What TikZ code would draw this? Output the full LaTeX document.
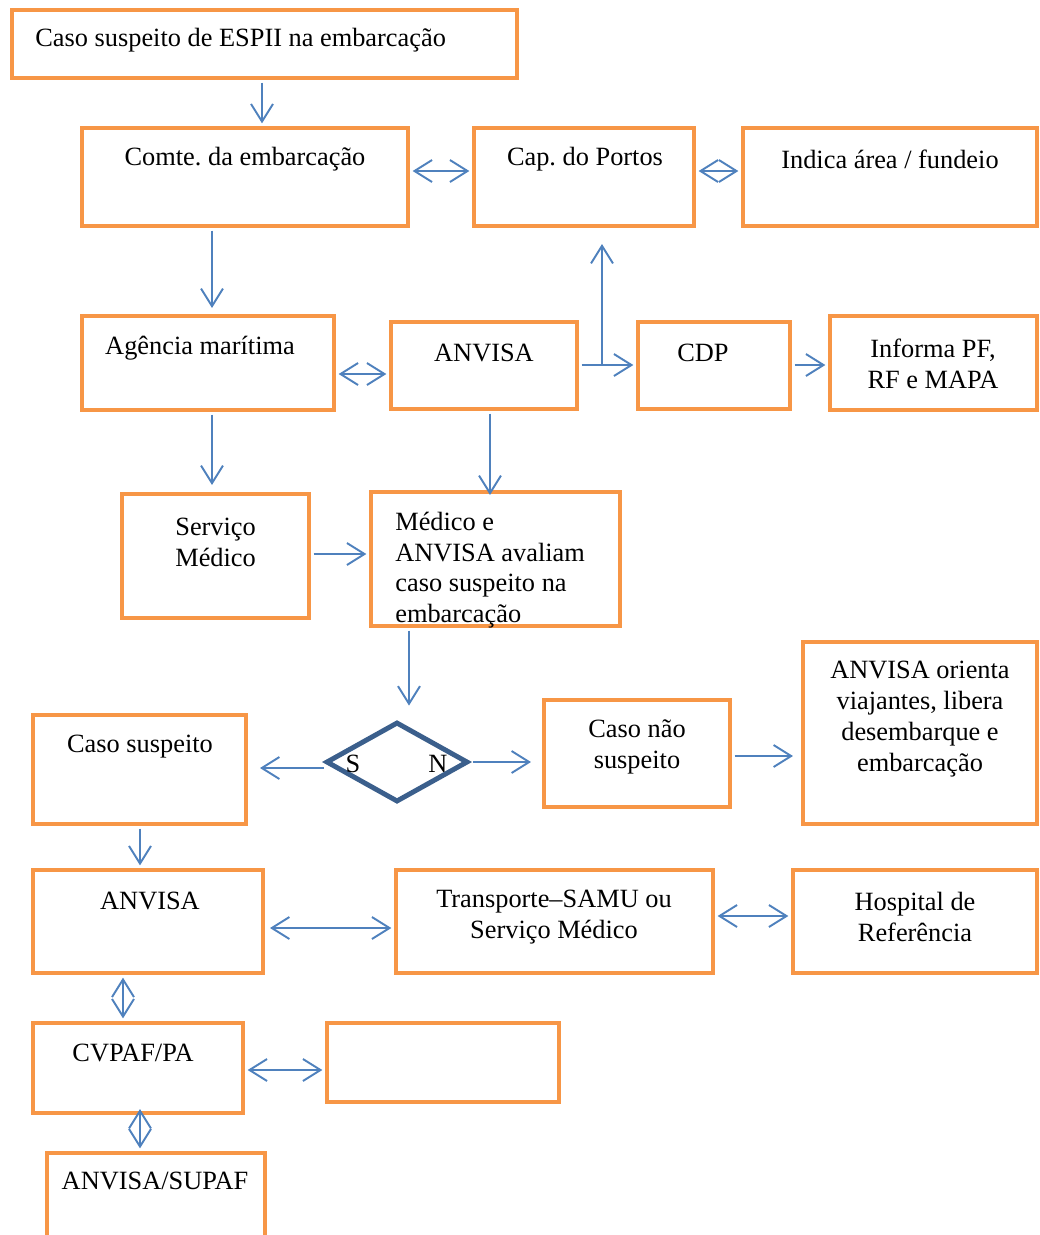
\documentclass[tikz,border=0pt]{standalone}
\usepackage{fontspec}
\setmainfont{Liberation Serif}
\usetikzlibrary{arrows.meta,fit,shapes.geometric}
\definecolor{laranja}{HTML}{F79646}
\definecolor{azul}{HTML}{4F81BD}
\definecolor{azulesc}{HTML}{3B5F8C}
\frenchspacing

\begin{document}
\begin{tikzpicture}[x=0.02cm, y=-0.02cm,
    caixa/.style={draw=laranja, line width=2.3pt, inner sep=0pt},
    texto/.style={font=\fontsize{15}{17.6}\selectfont, inner sep=0pt, yshift=-1.2pt},
    seta/.style={draw=azul, line width=1.1pt, shorten >=1.5pt, shorten <=1.5pt,
        -{Straight Barb[length=10pt,width=12.5pt]}},
    dupla/.style={seta, {Straight Barb[length=10pt,width=12.5pt]}-{Straight Barb[length=10pt,width=12.5pt]}}]

    % page size
    \useasboundingbox (0,0) rectangle (1039,1235);

    % Boxes
    \node[caixa, fit={(12,10) (517,78)}] (topo) {};
    \node[caixa, fit={(82,128) (408,226)}] (comte) {};
    \node[caixa, fit={(474,128) (694,226)}] (cap) {};
    \node[caixa, fit={(743,128) (1037,226)}] (indica) {};
    \node[caixa, fit={(82,316) (334,410)}] (agencia) {};
    \node[caixa, fit={(391,322) (577,409)}] (anvisa1) {};
    \node[caixa, fit={(638,322) (790,409)}] (cdp) {};
    \node[caixa, fit={(830,316) (1037,410)}] (informa) {};
    \node[caixa, fit={(122,494) (309,618)}] (servico) {};
    \node[caixa, fit={(371,492) (620,626)}] (medico) {};
    \node[caixa, fit={(544,700) (730,807)}] (naosusp) {};
    \node[caixa, fit={(803,642) (1037,824)}] (orienta) {};
    \node[caixa, fit={(33,715) (246,824)}] (casosusp) {};
    \node[caixa, fit={(33,870) (263,973)}] (anvisa2) {};
    \node[caixa, fit={(396,870) (713,973)}] (transporte) {};
    \node[caixa, fit={(793,870) (1037,973)}] (hospital) {};
    \node[caixa, fit={(33,1023) (243,1113)}] (cvpaf) {};
    \node[caixa, fit={(327,1023) (559,1102)}] (vazio) {};
    \node[caixa, fit={(47,1153) (265,1245)}] (supaf) {};

    % Decision
    \node[draw=azulesc, line width=2.8pt, diamond, inner sep=0pt,
        minimum width=2.84cm, minimum height=1.6cm] (decisao) at (397,762) {};
    \node[texto] (s) at (353,762) {S};
    \node[texto] (n) at (438,762) {N};

    % Texts
    \node[texto, anchor=west] (t-topo) at (35,38) {Caso suspeito de ESPII na embarca\c{c}\~ao};
    \node[texto] (t-comte) at (245,157) {Comte. da embarca\c{c}\~ao};
    \node[texto] (t-cap) at (585,157) {Cap. do Portos};
    \node[texto] (t-indica) at (890,157) {Indica \'area / fundeio};
    \node[texto] (t-agencia) at (200,346) {Ag\^encia mar\'itima};
    \node[texto] (t-anvisa1) at (484,351) {ANVISA};
    \node[texto] (t-cdp) at (703,351) {CDP};
    \node[texto, align=center] (t-informa) at (933,362) {Informa PF,\\RF e MAPA};
    \node[texto, align=left, anchor=west] (t-servico) at (175,540) {Servi\c{c}o\\M\'edico};
    \node[texto, align=left, anchor=west] (t-medico) at (395,568)
        {M\'edico e\\ANVISA avaliam\\caso suspeito na\\embarca\c{c}\~ao};
    \node[texto, align=center] (t-naosusp) at (637,745) {Caso n\~ao\\suspeito};
    \node[texto, align=center] (t-orienta) at (920,717)
        {ANVISA orienta\\viajantes, libera\\desembarque e\\embarca\c{c}\~ao};
    \node[texto] (t-casosusp) at (140,744) {Caso suspeito};
    \node[texto] (t-anvisa2) at (150,899) {ANVISA};
    \node[texto, align=center] (t-transporte) at (554,915) {Transporte--SAMU ou\\Servi\c{c}o M\'edico};
    \node[texto, align=center] (t-hospital) at (915,915) {Hospital de\\Refer\^encia};
    \node[texto] (t-cvpaf) at (133,1051) {CVPAF/PA};
    \node[texto] (t-supaf) at (155,1179) {ANVISA/SUPAF};

    % Arrows
    \draw[seta] (topo.south -| 262,0) -- (comte.north -| 262,0);
    \draw[dupla] (comte.east |- 0,171) -- (cap.west |- 0,171);
    \draw[dupla] (cap.east |- 0,171) -- (indica.west |- 0,171);
    \draw[seta, shorten >=0.12cm] (comte.south -| 212,0) -- (agencia.north -| 212,0);
    \draw[dupla] (agencia.east |- 0,374) -- (anvisa1.west |- 0,374);
    \coordinate (ramo) at (602,365);
    \draw[seta] (anvisa1.east |- ramo) -- (cdp.west |- ramo);
    \draw[seta, shorten <=0pt, shorten >=0.32cm] (ramo) -- (cap.south -| ramo);
    \draw[seta] (cdp.east |- ramo) -- (informa.west |- ramo);
    \draw[seta, shorten >=0.14cm] (agencia.south -| 212,0) -- (servico.north -| 212,0);
    \draw[seta, shorten >=-0.1cm] (anvisa1.south -| 490,0) -- (medico.north -| 490,0);
    \draw[seta] (servico.east |- 0,554) -- (medico.west |- 0,554);
    \draw[seta, shorten >=0.28cm] (medico.south -| 409,0) -- (decisao.north -| 409,0);
    \draw[seta, shorten <=0pt, shorten >=0.24cm] (decisao.west |- 0,768) -- (casosusp.east |- 0,768);
    \draw[seta, shorten >=0.22cm] (decisao.east) -- (naosusp.west |- decisao.east);
    \draw[seta, shorten >=0.16cm] (naosusp.east |- 0,756) -- (orienta.west |- 0,756);
    \draw[seta] (casosusp.south -| 140,0) -- (anvisa2.north -| 140,0);
    \draw[dupla, shorten <=0.1cm] (anvisa2.east |- 0,928) -- (transporte.west |- 0,928);
    \draw[dupla] (transporte.east |- 0,916) -- (hospital.west |- 0,916);
    \draw[dupla] (anvisa2.south -| 123,0) -- (cvpaf.north -| 123,0);
    \draw[dupla] (cvpaf.east |- 0,1070) -- (vazio.west |- 0,1070);
    \draw[dupla, shorten <=-0.12cm] (cvpaf.south -| 140,0) -- (supaf.north -| 140,0);

\end{tikzpicture}
\end{document}
